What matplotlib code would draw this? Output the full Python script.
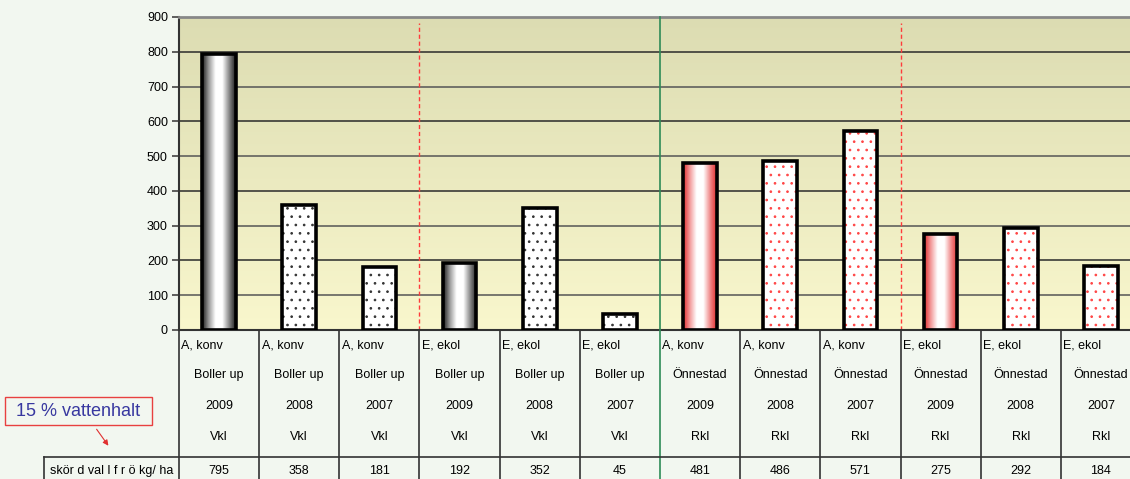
import numpy as np
import matplotlib
matplotlib.use("Agg")
import matplotlib.pyplot as plt
from matplotlib.colors import LinearSegmentedColormap
from matplotlib.transforms import blended_transform_factory
from matplotlib.lines import Line2D
from matplotlib.patches import FancyArrowPatch, Rectangle

plt.rcParams['font.family'] = ['Liberation Sans', 'DejaVu Sans']
plt.rcParams['hatch.linewidth'] = 0.7

# data
treatment = ["A, konv", "A, konv", "A, konv", "E, ekol", "E, ekol", "E, ekol",
             "A, konv", "A, konv", "A, konv", "E, ekol", "E, ekol", "E, ekol"]
site = ["Boller up"] * 6 + ["Önnestad"] * 6
year = ["2009", "2008", "2007"] * 4
crop = ["Vkl"] * 6 + ["Rkl"] * 6
harvest = [795, 358, 181, 192, 352, 45, 481, 486, 571, 275, 292, 184]
style = ["grad", "dots", "dots"] * 4
tone = ["black"] * 6 + ["red"] * 6
yticks = [0, 100, 200, 300, 400, 500, 600, 700, 800, 900]

W, H = 1130, 479
fig = plt.figure(figsize=(W / 100, H / 100), dpi=100)
fig.patch.set_facecolor("#f2f7f0")

# plot area in pixels: x 179..1141 (runs past right edge), y 17..330
ax = fig.add_axes([179 / W, (H - 330) / H, (1141 - 179) / W, (330 - 17) / H])
ax.set_xlim(-0.5, 11.5)
ax.set_ylim(0, 900)

# background gradient of the plot area
bg = LinearSegmentedColormap.from_list("bg", ["#f9f7cd", "#dcdcb2"])
ax.imshow(np.linspace(0, 1, 256).reshape(-1, 1), cmap=bg, origin="lower",
          extent=[0, 1, 0, 1], transform=ax.transAxes, aspect="auto", zorder=0)

for i, t in enumerate(yticks[1:]):
    ax.axhline(t, color="#2a2a2a" if i % 2 else "#555555", lw=1.1, zorder=1)

x = np.arange(len(harvest))
bw = 0.42
cm_black = LinearSegmentedColormap.from_list("gb", ["#1a1a1a", "#9a9a9a", "#ffffff", "#ffffff", "#8a8a8a", "#1a1a1a"])
cm_red = LinearSegmentedColormap.from_list("gr", ["#e02a2a", "#f29a9a", "#ffffff", "#ffffff", "#f08a8a", "#e02a2a"])

for xi, v, s, c in zip(x, harvest, style, tone):
    if s == "grad":
        cmap = cm_black if c == "black" else cm_red
        ax.imshow(np.linspace(0, 1, 256).reshape(1, -1), cmap=cmap,
                  extent=[xi - bw / 2, xi + bw / 2, 0, v], aspect="auto", zorder=2)
    else:
        ax.bar(xi, v, bw, color="white", edgecolor="#333333" if c == "black" else "#ff4545",
               hatch="..", linewidth=0, zorder=2)
    ax.bar(xi, v, bw, fill=False, edgecolor="black", linewidth=2.6, zorder=3)

ax.set_yticks(yticks)
ax.set_xticks([])
ax.tick_params(axis="y", labelsize=9, length=5, width=1.2, color="#444444", pad=3)
for sp in ["left", "bottom"]:
    ax.spines[sp].set_color("#333333")
    ax.spines[sp].set_linewidth(1.5)
ax.spines["top"].set_color("#888888")
ax.spines["top"].set_linewidth(2)
ax.spines["right"].set_visible(False)

# group separators
ax.axvline(2.5, ymax=0.98, color="#ff3b3b", lw=1, ls=(0, (3, 2)), zorder=1)
ax.axvline(8.5, ymax=0.98, color="#ff3b3b", lw=1, ls=(0, (3, 2)), zorder=1)

# table below the chart
tr = blended_transform_factory(ax.transData, ax.transAxes)
def py(y):
    return (330 - y) / 313.0

for b in np.arange(-0.5, 11.6, 1.0):
    if b == 5.5:
        continue
    ax.plot([b, b], [py(H + 2), 0], color="#333333", lw=1.2, transform=tr, clip_on=False)
ax.plot([5.5, 5.5], [py(H + 2), 1], color="#2e8b57", lw=1.2, transform=tr, clip_on=False, zorder=4)

for xi in x:
    ax.text(xi - 0.47, py(346), treatment[xi], transform=tr, ha="left", va="center", fontsize=9)
    ax.text(xi, py(375), site[xi], transform=tr, ha="center", va="center", fontsize=9)
    ax.text(xi, py(406), year[xi], transform=tr, ha="center", va="center", fontsize=9)
    ax.text(xi, py(437), crop[xi], transform=tr, ha="center", va="center", fontsize=9)
    ax.text(xi, py(471), str(harvest[xi]), transform=tr, ha="center", va="center", fontsize=9)

fig.add_artist(Line2D([44 / W, 1], [(H - 457) / H] * 2, color="#333333", lw=1.2))
fig.add_artist(Line2D([44 / W] * 2, [(H - 457) / H, 0], color="#333333", lw=1.2))
fig.text(50 / W, (H - 471) / H, "skör d val l f r ö kg/ ha", ha="left", va="center", fontsize=9)

# note box with arrow
fig.add_artist(Rectangle((5 / W, (H - 425) / H), 147 / W, 28 / H, transform=fig.transFigure,
                         facecolor="none", edgecolor="#e84040", lw=1))
fig.text(78 / W, (H - 411) / H, "15 % vattenhalt", ha="center", va="center",
         fontsize=13, color="#3838a0")
fig.add_artist(FancyArrowPatch((95 / W, (H - 427) / H), (110 / W, (H - 448) / H),
                               transform=fig.transFigure, arrowstyle="-|>",
                               mutation_scale=8, color="#e03030", lw=0.8))

fig.savefig("out.png", dpi=100, facecolor=fig.get_facecolor())
